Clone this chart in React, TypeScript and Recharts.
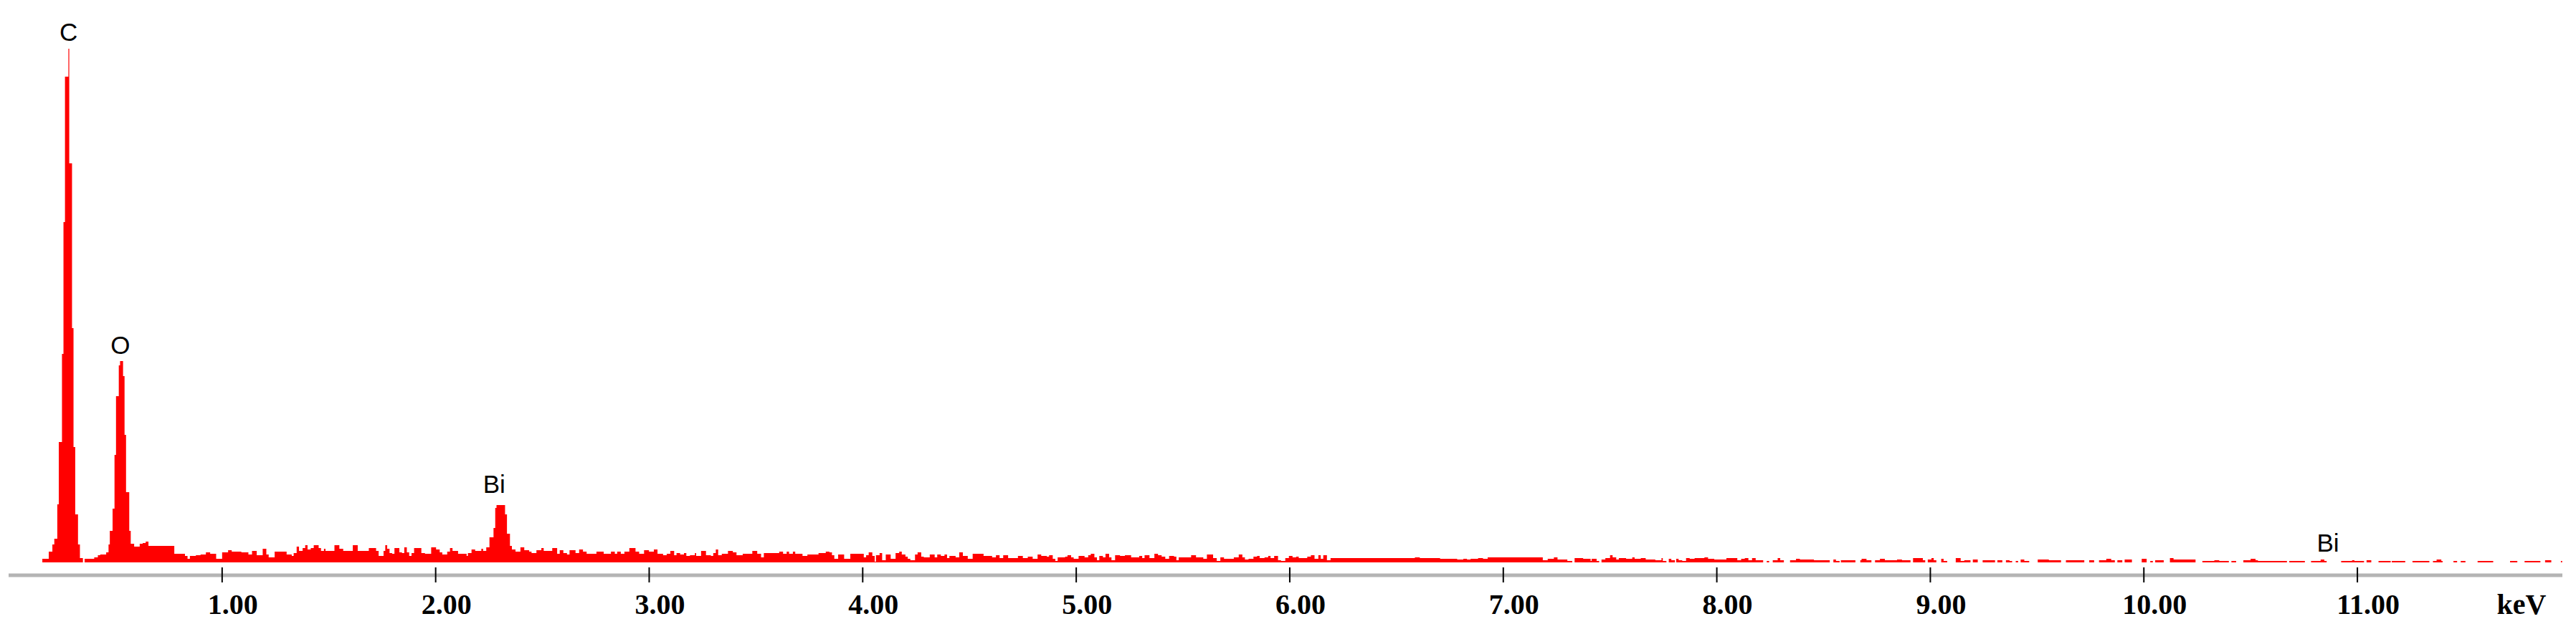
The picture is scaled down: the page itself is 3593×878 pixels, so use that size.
import React from 'react';
import { AreaChart, Area, XAxis, YAxis, ReferenceDot, ReferenceLine } from 'recharts';

// EDS spectrum, as step breakpoints: [energy (keV), counts]
// each count holds until the next breakpoint
const carbonPeak: [number, number][] = [
  [0.158, 5], [0.188, 15], [0.205, 25], [0.214, 33], [0.228, 81], [0.235, 168],
  [0.25, 291], [0.257, 475], [0.264, 678], [0.28, 717], [0.284, 557], [0.297, 327],
  [0.304, 161], [0.312, 67], [0.325, 25], [0.334, 6], [0.348, 0],
];

const oxygenPeak: [number, number][] = [
  [0.356, 5], [0.401, 7], [0.418, 10], [0.429, 11], [0.457, 14], [0.468, 25],
  [0.474, 44], [0.487, 75], [0.496, 150], [0.503, 232], [0.516, 275], [0.522, 281],
  [0.536, 260], [0.543, 178], [0.55, 98], [0.565, 44], [0.572, 26], [0.588, 22],
  [0.614, 26], [0.628, 27], [0.642, 29], [0.655, 23], [0.776, 12], [0.826, 9],
  [0.838, 5], [0.849, 9], [0.877, 10], [0.899, 11], [0.924, 14], [0.944, 12],
  [0.972, 5], [1.0, 14], [1.028, 17], [1.045, 15], [1.09, 14], [1.123, 11],
  [1.14, 16], [1.162, 10], [1.19, 19], [1.207, 11], [1.218, 7], [1.246, 15],
];

const bismuthRegion: [number, number][] = [
  [1.302, 11], [1.326, 9], [1.335, 13], [1.349, 22], [1.36, 16], [1.377, 20],
  [1.389, 24], [1.4, 18], [1.415, 20], [1.429, 24], [1.452, 20], [1.463, 16],
  [1.477, 19], [1.484, 16], [1.526, 24], [1.549, 19], [1.567, 16], [1.612, 24],
  [1.635, 16], [1.687, 20], [1.721, 16], [1.733, 9], [1.756, 16], [1.764, 24],
  [1.773, 19], [1.784, 13], [1.796, 12], [1.807, 20], [1.83, 14], [1.842, 13],
  [1.853, 21], [1.865, 14], [1.876, 9], [1.887, 13], [1.899, 20], [1.933, 13],
  [1.95, 12], [1.979, 21], [2.002, 18], [2.019, 14], [2.031, 11], [2.054, 15],
  [2.067, 20], [2.079, 16], [2.105, 12], [2.145, 9], [2.151, 13], [2.168, 18],
  [2.185, 16], [2.214, 19], [2.222, 16], [2.237, 21], [2.252, 35], [2.271, 48],
  [2.279, 76], [2.285, 80], [2.325, 67], [2.334, 40], [2.348, 23], [2.357, 18],
  [2.374, 15], [2.397, 21], [2.415, 17], [2.438, 15], [2.449, 13], [2.472, 17],
  [2.495, 20], [2.506, 16], [2.546, 20], [2.569, 12], [2.581, 17], [2.598, 13],
  [2.615, 11], [2.627, 17], [2.655, 13], [2.672, 18], [2.69, 15], [2.707, 12],
  [2.753, 15], [2.787, 12], [2.821, 15], [2.839, 12], [2.85, 15], [2.867, 12],
  [2.884, 15], [2.907, 20], [2.936, 15], [2.953, 12], [2.976, 17], [2.999, 15],
  [3.022, 18], [3.039, 12],
];

const midBackground: [number, number][] = [
  [3.065, 10], [3.082, 12], [3.099, 16], [3.117, 10], [3.128, 13], [3.145, 11],
  [3.163, 13], [3.174, 9], [3.191, 10], [3.214, 13], [3.22, 9], [3.243, 16],
  [3.266, 10], [3.289, 9], [3.3, 13], [3.312, 18], [3.323, 10], [3.34, 12],
  [3.369, 16], [3.392, 14], [3.409, 10], [3.438, 12], [3.483, 16], [3.506, 12],
  [3.524, 7], [3.537, 13], [3.609, 15], [3.627, 12], [3.644, 15], [3.655, 12],
  [3.673, 15], [3.684, 12], [3.718, 9], [3.741, 11], [3.793, 13], [3.827, 15],
  [3.844, 14], [3.856, 10], [3.867, 5], [3.885, 11], [3.913, 5], [3.942, 12],
  [4.005, 7], [4.016, 10], [4.028, 14], [4.045, 9], [4.056, 1], [4.062, 10],
  [4.079, 13], [4.091, 3], [4.108, 11], [4.131, 5], [4.154, 13], [4.171, 15],
  [4.183, 11], [4.2, 8], [4.211, 5], [4.223, 3], [4.245, 11], [4.257, 14],
  [4.274, 8], [4.286, 7], [4.314, 11], [4.337, 7], [4.349, 11], [4.366, 9],
  [4.383, 11], [4.395, 6], [4.406, 9], [4.435, 7], [4.452, 14], [4.469, 9],
  [4.492, 5], [4.515, 12], [4.566, 9], [4.606, 7], [4.624, 10], [4.641, 6],
  [4.658, 10], [4.681, 6], [4.727, 9], [4.75, 6], [4.773, 8], [4.796, 5],
  [4.819, 11], [4.836, 9], [4.862, 8], [4.873, 10], [4.89, 5], [4.902, 2],
  [4.913, 7], [4.948, 8], [4.959, 10], [4.976, 7], [4.988, 5], [5.011, 9],
  [5.039, 7], [5.056, 10], [5.068, 12], [5.085, 7], [5.097, 3], [5.108, 9],
  [5.125, 7], [5.137, 12], [5.154, 7], [5.165, 3], [5.182, 10], [5.205, 9],
  [5.228, 10], [5.257, 7], [5.295, 9], [5.309, 6], [5.32, 10], [5.343, 6],
  [5.366, 12], [5.383, 10], [5.4, 8], [5.417, 5], [5.435, 9], [5.458, 8],
  [5.469, 3], [5.48, 7], [5.538, 10], [5.561, 7], [5.595, 5], [5.612, 11],
  [5.641, 6], [5.658, 2], [5.675, 7], [5.692, 5], [5.738, 7], [5.761, 11],
  [5.778, 7], [5.79, 4], [5.807, 5], [5.83, 8], [5.847, 9], [5.859, 6],
  [5.882, 7], [5.899, 9], [5.91, 6], [5.927, 9], [5.945, 3], [5.959, 2],
  [5.979, 6], [5.996, 9], [6.013, 7], [6.03, 8], [6.042, 6], [6.082, 8],
  [6.099, 10], [6.116, 5], [6.134, 10], [6.145, 5], [6.157, 10], [6.174, 3],
  [6.191, 6], [6.586, 7], [6.609, 6],
];

const highBackground: [number, number][] = [
  [6.658, 6], [6.704, 5], [6.784, 4], [6.813, 5], [6.83, 4], [6.847, 5],
  [6.882, 6], [6.905, 5], [6.927, 7], [7.185, 3], [7.208, 5], [7.237, 7],
  [7.254, 4], [7.3, 2], [7.323, 0], [7.334, 6], [7.374, 5], [7.409, 2],
  [7.414, 5], [7.437, 2], [7.449, 0], [7.46, 4], [7.478, 6], [7.5, 10],
  [7.512, 7], [7.529, 4], [7.541, 6], [7.575, 5], [7.604, 7], [7.615, 5],
  [7.644, 6], [7.667, 4], [7.712, 3], [7.741, 6], [7.747, 2], [7.764, 0],
  [7.775, 5], [7.787, 3], [7.804, 0], [7.81, 5], [7.821, 3], [7.838, 2],
  [7.856, 6], [7.873, 5], [7.896, 6], [7.942, 7], [7.959, 5], [7.988, 4],
  [8.045, 6], [8.096, 3], [8.114, 5], [8.131, 6], [8.148, 3], [8.165, 6],
  [8.182, 3], [8.217, 0], [8.234, 2], [8.245, 0], [8.262, 3], [8.285, 6],
  [8.297, 3], [8.314, 0], [8.343, 3], [8.371, 5], [8.389, 4], [8.455, 3],
  [8.529, 0], [8.546, 4], [8.558, 2], [8.575, 0], [8.581, 3], [8.649, 0],
  [8.672, 3], [8.678, 5], [8.701, 3], [8.724, 0], [8.741, 3], [8.764, 5],
  [8.787, 3], [8.844, 4], [8.867, 3], [8.907, 0], [8.919, 6], [8.965, 3],
  [8.976, 0], [8.988, 4], [9.005, 6], [9.016, 3], [9.028, 0], [9.051, 5],
  [9.062, 2], [9.079, 0], [9.119, 6], [9.142, 2], [9.159, 3], [9.188, 0],
  [9.199, 4], [9.222, 0], [9.245, 3], [9.303, 0], [9.314, 3], [9.337, 0],
  [9.354, 3], [9.371, 2], [9.383, 0], [9.4, 2], [9.411, 0], [9.423, 4],
  [9.44, 2], [9.463, 0], [9.503, 4], [9.555, 3], [9.612, 0], [9.635, 3],
  [9.721, 0], [9.744, 3], [9.767, 0], [9.79, 3], [9.824, 5], [9.847, 3],
  [9.864, 0], [9.876, 3], [9.899, 0], [9.91, 4], [9.944, 0], [9.99, 5],
  [10.013, 0], [10.03, 2], [10.042, 0], [10.053, 3], [10.093, 0], [10.122, 6],
  [10.139, 4], [10.242, 0], [10.274, 2], [10.33, 3], [10.353, 2], [10.398, 0],
  [10.41, 2], [10.432, 0], [10.466, 3], [10.5, 5], [10.523, 3], [10.534, 2],
  [10.67, 0], [10.681, 2], [10.754, 0], [10.783, 2], [10.828, 4], [10.845, 2],
  [10.856, 0], [10.924, 2], [10.975, 3], [10.986, 2], [11.031, 0], [11.043, 3],
  [11.065, 0], [11.099, 2], [11.156, 0], [11.161, 2], [11.224, 0], [11.258, 2],
  [11.337, 0], [11.354, 2], [11.371, 4], [11.393, 2], [11.399, 0], [11.45, 2],
  [11.467, 0], [11.484, 2], [11.506, 0], [11.563, 2], [11.636, 0], [11.715, 2],
  [11.749, 0], [11.783, 2], [11.857, 0], [11.879, 3], [11.908, 0], [11.953, 2],
  [11.959, 0],
];

const energyTicks = [1, 2, 3, 4, 5, 6, 7, 8, 9, 10, 11];

// element labels: energy and the count level where the text sits
const peakLabels = [
  { name: 'C', keV: 0.281, level: 728 },
  { name: 'O', keV: 0.523, level: 291 },
  { name: 'Bi', keV: 2.274, level: 97 },
  { name: 'Bi', keV: 10.862, level: 15 },
];

const spectrum = [...carbonPeak, ...oxygenPeak, ...bismuthRegion, ...midBackground, ...highBackground]
  .map(([keV, counts]) => ({ keV, counts }));

const serifBold = '"Liberation Serif", "Times New Roman", serif';
const sans = '"Liberation Sans", Arial, sans-serif';

const EnergyTick = (props: any) => {
  const { x, y, payload } = props;
  return (
    <g>
      <line x1={x} x2={x} y1={y - 11} y2={y + 10} stroke="#000" strokeWidth={2} />
      <text x={x + 15} y={y + 54} textAnchor="middle" fontFamily={serifBold} fontWeight="bold" fontSize={40} fill="#000">
        {Number(payload.value).toFixed(2)}
      </text>
    </g>
  );
};

const App: React.FC = () => {
  return (
    <div style={{ position: 'absolute', left: 0, top: 0, width: 3593, height: 878, background: '#fff' }}>
      <AreaChart width={3593} height={878} data={spectrum} margin={{ top: 68, right: 19, bottom: 0, left: 12 }}>
        <XAxis
          dataKey="keV"
          type="number"
          domain={[0, 11.96]}
          ticks={energyTicks}
          height={75}
          tickSize={0}
          tickMargin={0}
          tickLine={false}
          axisLine={{ stroke: '#b4b4b4', strokeWidth: 5 }}
          tick={<EnergyTick />}
          interval={0}
          label={{
            content: (p: any) => (
              <text
                x={p.viewBox.x + p.viewBox.width - 57}
                y={p.viewBox.y + 54}
                textAnchor="middle"
                fontFamily={serifBold}
                fontWeight="bold"
                fontSize={40}
                fill="#000"
              >
                keV
              </text>
            ),
          }}
        />
        <YAxis hide type="number" domain={[-18, 717]} />
        <ReferenceLine y={-18} stroke="#5f5f5f" strokeWidth={2} ifOverflow="visible" />
        <Area
          type="stepAfter"
          dataKey="counts"
          baseValue={0}
          stroke="none"
          fill="#ff0000"
          fillOpacity={1}
          isAnimationActive={false}
        />
        {peakLabels.map((l, i) => (
          <ReferenceDot
            key={i}
            x={l.keV}
            y={l.level}
            r={0}
            ifOverflow="visible"
            shape={(p: any) => (
              <text x={p.cx} y={p.cy} textAnchor="middle" fontFamily={sans} fontSize={35} fill="#000">
                {l.name}
              </text>
            )}
          />
        ))}
      </AreaChart>
    </div>
  );
};

export default App;
